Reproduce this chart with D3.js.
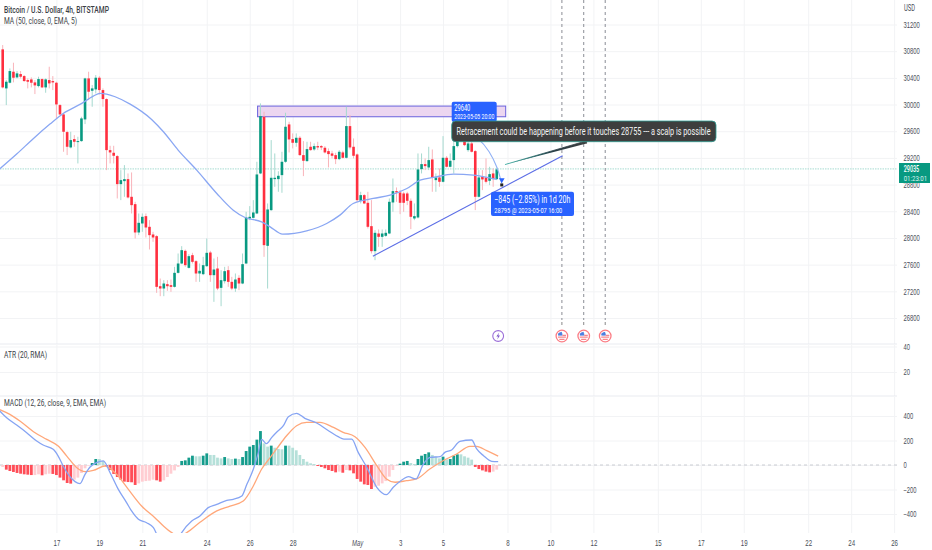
<!DOCTYPE html>
<html>
<head>
<meta charset="utf-8">
<script src="https://cdn.jsdelivr.net/npm/d3@7"></script>
<style>
  html, body { margin: 0; padding: 0; background: #fff; }
  svg { display: block; font-family: Roboto, "Noto Sans", sans-serif; }
  .axis text { fill: #4a4e58; font-size: 8.5px; }
  .axis .domain { display: none; }
  .grid line { stroke: #f2f3f5; }
  .grid .domain, .grid text { display: none; }
</style>
</head>
<body>
<div id="chart"></div>
<script>
// open, high, low, close per 4h bar
var candles = [
[30827,30892,30242,30257],[30242,30367,29992,30342],[30327,30542,30317,30502],[30492,30627,30332,30402],
[30407,30502,30392,30467],[30457,30502,30392,30417],[30427,30442,30342,30352],[30367,30392,30242,30342],
[30377,30407,30257,30327],[30332,30367,30157,30287],[30277,30417,30257,30382],[30382,30392,30247,30257],
[30257,30392,30177,30377],[30367,30567,30242,30317],[30352,30427,30217,30332],[30327,30342,29792,30002],
[29992,30007,29842,29852],[29852,29867,29292,29592],[29587,29607,29242,29367],[29357,29592,29342,29467],
[29482,29542,29367,29442],[29442,29517,29117,29452],[29452,29817,29442,29792],[29777,30402,29707,30392],
[30392,30492,30067,30192],[30207,30292,29967,30242],[30227,30442,30167,30402],[30402,30427,30152,30217],
[30217,30242,29967,30082],[30082,30092,29017,29317],[29317,29382,29117,29282],[29277,29382,29117,29232],
[29227,29242,28592,28807],[28807,29017,28567,28867],[28852,29092,28617,28882],[28882,28967,28592,28607],
[28617,28982,28367,28492],[28507,28542,27992,28082],[28082,28367,28042,28227],[28217,28367,28092,28317],
[28327,28367,28007,28157],[28167,28267,27827,28042],[28052,28092,27942,28007],[28027,28042,27177,27267],
[27277,27392,27127,27242],[27242,27367,27127,27317],[27307,27367,27207,27277],[27292,27377,27192,27267],
[27267,27567,27257,27477],[27477,27767,27467,27617],[27617,27877,27607,27817],[27807,27827,27567,27592],
[27552,27757,27542,27727],[27742,27777,27617,27642],[27652,27667,27342,27467],[27467,27617,27342,27507],
[27457,27717,27442,27592],[27577,27992,27567,27777],[27782,27807,27342,27442],[27442,27692,27042,27527],
[27542,27717,27217,27242],[27252,27517,26977,27367],[27352,27567,27317,27502],[27517,27577,27267,27342],
[27342,27417,27217,27242],[27242,27467,27192,27377],[27402,27442,27217,27317],[27317,27767,27307,27607],
[27617,28392,27607,28307],[28292,28477,28267,28317],[28302,28567,28292,28382],[28367,29142,28357,28952],
[28967,30017,28957,29827],[29817,29892,27717,27892],[27882,28517,27242,28427],[28417,29467,28407,28902],
[28882,29267,28767,28902],[28882,29000,28692,28932],[28942,29292,28677,29142],[29142,29877,29127,29667],
[29702,29742,29282,29477],[29482,29567,29342,29427],[29427,29567,29367,29502],[29502,29527,29232,29242],
[29242,29452,28927,29157],[29152,29442,29142,29332],[29367,29442,29307,29317],[29327,29417,29307,29377],
[29377,29442,29317,29357],[29377,29392,29317,29357],[29352,29377,29267,29282],[29302,29342,29057,29257],
[29267,29307,29192,29232],[29242,29277,29107,29182],[29182,29317,29167,29292],[29282,29307,29192,29202],
[29202,29967,29192,29677],[29677,29842,29327,29357],[29367,29492,29192,29232],[29252,29267,28542,28567],
[28557,28692,28517,28642],[28642,28657,28507,28517],[28527,28692,28142,28167],[28177,28567,27767,27802],
[27802,28117,27667,28077],[28067,28127,27867,28017],[28017,28127,27867,28067],[28032,28127,28017,28077],
[28067,28592,28057,28542],[28532,28892,28392,28702],[28702,28757,28542,28682],[28682,28717,28357,28527],
[28667,28692,28392,28527],[28667,28692,28492,28557],[28557,28592,28132,28317],[28292,28517,28267,28327],
[28307,29267,28292,29027],[29032,29267,28967,29107],[29107,29192,29017,29077],[29057,29367,29017,29167],
[29177,29327,28692,28907],[28867,28967,28692,28907],[28907,29042,28767,28842],[28842,29527,28832,29202],
[29202,29227,29057,29067],[29067,29267,29057,29157],[29167,29467,28967,29377],[29377,29717,29357,29692],
[29592,29692,29467,29532],[29542,29767,29377,29392],[29317,29442,29292,29417],[29417,29442,29282,29292],
[29302,29317,28417,28617],[28617,29017,28607,28907],[28917,29017,28717,28877],[28907,29192,28817,28842],
[28857,29067,28792,28957],[28967,29042,28767,28882],[28882,29057,28867,29027]
];

var maBars = [-1,3.9,8.6,13.2,16.9,22.1,25.3,27.2,29,31.4,35.6,41.6,44.9,49,54.2,59.8,64.4,67.7,72.3,74.7,78.2,84.9,90.5,94.2,97.9,103.5,108.2,112.9,116.6,120.3,125.9,131.5,138];
var maValues = [29027,29257,29492,29707,29867,30017,30127,30167,30157,30117,30007,29777,29592,29317,29017,28667,28417,28307,28242,28167,28057,28107,28217,28342,28517,28592,28642,28742,28867,28907,28957,28942,28877];

var histogram = [-16,-38,-49,-57,-65,-71,-76,-79,-82,-82,-76,-84,-76,-71,-73,-82,-103,-125,-147,-152,-120,-103,-65,-27,-5,16,49,49,33,-8,-41,-73,-98,-120,-136,-139,-141,-163,-150,-136,-131,-128,-120,-125,-136,-125,-98,-71,-44,-16,33,38,60,76,71,71,76,95,82,82,60,54,65,54,49,52,49,65,114,150,163,207,277,177,150,158,141,131,128,158,158,141,120,82,49,27,14,8,-8,-16,-27,-41,-49,-60,-54,-63,-41,-44,-68,-114,-136,-158,-163,-196,-177,-169,-150,-131,-95,-41,-5,11,27,33,16,8,49,76,90,103,82,68,54,68,46,49,76,87,87,71,60,44,-16,-33,-44,-54,-60,-54,-38];

var macdBars = [-1,1.1,3.9,6.7,9.5,11.3,14.1,15.5,16.9,18.3,20.2,21.6,23,24.4,26.2,28.1,30,32.3,34.6,36,37.9,40.2,42.1,43.5,45.5,47.7,50,52.8,55.1,57.4,59.8,62.6,64.4,66.8,68.2,70,71.4,72.3,73.7,75.1,76.5,78.4,79.8,82.1,84.4,87.7,91,93.7,95.3,97.5,99.3,101.7,104.5,107.2,109.1,111.9,113.3,115.4,117.5,119.4,122.2,123.5,125.4,127.7,131,132.4,134.3,136.6,138.4];
var macdValues = [446,386,326,264,196,163,128,73,-8,-76,-136,-152,-76,-16,19,33,-63,-199,-307,-375,-443,-471,-511,-593,-660,-680,-552,-457,-416,-348,-321,-288,-280,-253,-158,-35,101,209,174,223,267,321,394,422,381,343,280,231,212,212,103,-19,-182,-242,-182,-114,-95,-114,8,63,68,103,122,193,204,131,76,30,27];
var signalBars = [-1,2,4.8,8.6,12.3,15.5,17.9,20.7,23,25.3,28.6,31.8,35.1,38.8,42.5,44.9,47.2,49.3,51.4,55.1,59.8,63.5,67.2,70,72.3,74.7,76.5,79.3,82.1,84.9,88.6,92.4,95.1,98.4,101.2,104.5,107.2,109.6,112.8,115.6,119.3,123,126.8,130.5,132.4,135.2,138.4];
var signalValues = [454,413,359,272,209,155,73,-22,-54,-44,-8,-76,-199,-335,-430,-498,-552,-580,-552,-468,-375,-335,-294,-171,-35,60,131,239,321,348,348,307,267,231,144,-5,-114,-141,-128,-114,-33,35,90,152,152,117,73];

var priceTicks = [31200,30800,30400,30000,29600,29200,28800,28400,28000,27600,27200,26800];
var atrTicks = [40,20];
var macdTicks = [400,200,0,-200,-400];
var dayBars = [15,27,39,57,69,81,99,111,123,141,153,165,183,195,207,225,237,249];
var dayLabels = ["17","19","21","24","26","28","May","3","5","8","10","12","15","17","19","22","24","26"];
var eventBars = [156.2,162.3,168.3];
var newsBar = 138.4;
var lastPrice = 29035;
var trendBars = [103.4,156.4];
var trendPrices = [27727,29232];
var boxBars = [71.2,140.5];
var boxPrices = [29977,29817];
var forecastBars = [128.5,133,136,138.2,139.4];
var forecastPrices = [29640,29500,29300,29060,28820];
var calloutBars = [140.3,163.1];
var calloutPrices = [29100,29436];

var width = 932, height = 550, axisX = 897;
var x = d3.scaleLinear().domain([0,139]).range([2.7,2.7+3.58*139]);
var y = d3.scaleLinear().domain([31200,26800]).range([24.5,318]);
var yAtr = d3.scaleLinear().domain([40,20]).range([346.5,372]);
var yMacd = d3.scaleLinear().domain([400,-400]).range([416,514]);

var up = "#089981", down = "#ff2f3f";
var svg = d3.select("#chart").append("svg").attr("width",width).attr("height",height);
var defs = svg.append("defs");

function clip(id, top, bottom) {
  defs.append("clipPath").attr("id",id).append("rect")
    .attr("x",0).attr("y",top).attr("width",axisX).attr("height",bottom-top);
}
clip("clipMain",0,344);
clip("clipMacd",397,533);

// the reference face is narrow, so squeeze text to the measured width
function squeeze(sel, w) {
  return sel.attr("textLength",w).attr("lengthAdjust","spacingAndGlyphs");
}

// vertical grid in each pane
var panes = [[0,344],[345,396],[397,533]];
panes.forEach(function(p) {
  svg.append("g").attr("class","grid").attr("transform","translate(0,"+p[1]+")")
    .call(d3.axisBottom(x).tickValues(dayBars).tickSize(p[0]-p[1]).tickFormat(""));
});

function rightAxis(scale, ticks) {
  svg.append("g").attr("class","grid")
    .call(d3.axisLeft(scale).tickValues(ticks).tickSize(-axisX).tickFormat(""));
  var g = svg.append("g").attr("class","axis").attr("transform","translate("+axisX+",0)")
    .call(d3.axisRight(scale).tickValues(ticks).tickSize(0).tickPadding(6.5).tickFormat(function(d) {
      return d < 0 ? "\u2212" + (-d) : d;
    }));
  g.selectAll("text").each(function() {
    d3.select(this).attr("textLength",this.textContent.length*3.25).attr("lengthAdjust","spacingAndGlyphs");
  });
}
rightAxis(y,priceTicks);
rightAxis(yAtr,atrTicks);
rightAxis(yMacd,macdTicks);

// pane separators
svg.selectAll(".sep").data([344,396]).enter().append("line")
  .attr("x1",0).attr("x2",axisX).attr("y1",function(d){return d;}).attr("y2",function(d){return d;})
  .attr("stroke","#e9ebf0");

squeeze(svg.append("text").attr("x",904).attr("y",11)
  .attr("font-size",8.5).attr("fill","#4a4e58").text("USD"),11);

// time axis
var timeAxis = svg.append("g").attr("class","axis").attr("transform","translate(0,533)")
  .call(d3.axisBottom(x).tickValues(dayBars).tickSize(0).tickPadding(7)
    .tickFormat(function(d,i){ return dayLabels[i]; }));
timeAxis.selectAll("text")
  .attr("font-style",function(d,i){ return dayLabels[i]=="May" ? "italic" : null; })
  .attr("textLength",function(d,i){ return dayLabels[i].length*(dayLabels[i]=="May" ? 3.7 : 3.4); })
  .attr("lengthAdjust","spacingAndGlyphs");

var main = svg.append("g").attr("clip-path","url(#clipMain)");

// last price line
main.append("line").attr("x1",0).attr("x2",axisX).attr("y1",y(lastPrice)).attr("y2",y(lastPrice))
  .attr("stroke","#a7dcd2").attr("stroke-dasharray","1.5 1");

// event dashed lines
main.selectAll(".ev").data(eventBars).enter().append("line")
  .attr("x1",function(d){return x(d);}).attr("x2",function(d){return x(d);})
  .attr("y1",0).attr("y2",320)
  .attr("stroke","#8a8d95").attr("stroke-dasharray","3 3");

// resistance box
main.append("rect")
  .attr("x",x(boxBars[0])).attr("y",y(boxPrices[0]))
  .attr("width",x(boxBars[1])-x(boxBars[0])).attr("height",y(boxPrices[1])-y(boxPrices[0]))
  .attr("fill","#ecd6f0").attr("stroke","#6a62dd").attr("stroke-width",1);

// wicks then bodies
main.selectAll(".wick").data(candles).enter().append("line")
  .attr("x1",function(d,i){return x(i);}).attr("x2",function(d,i){return x(i);})
  .attr("y1",function(d){return y(d[1]);}).attr("y2",function(d){return y(d[2]);})
  .attr("stroke",function(d){return d[3]>=d[0] ? "#a6d9cf" : "#f9b4ba";});
main.selectAll(".body").data(candles).enter().append("rect")
  .attr("x",function(d,i){return x(i)-1.3;}).attr("width",2.6)
  .attr("y",function(d){return y(Math.max(d[0],d[3]));})
  .attr("height",function(d){return Math.max(1,Math.abs(y(d[0])-y(d[3])));})
  .attr("fill",function(d){return d[3]>=d[0] ? up : down;});

// moving average and drawn lines
main.append("path").attr("fill","none").attr("stroke","#8aa7f3").attr("stroke-width",1.3)
  .attr("d",d3.line().x(function(d,i){return x(maBars[i]);}).y(function(d){return y(d);}).curve(d3.curveMonotoneX)(maValues));
main.append("line")
  .attr("x1",x(trendBars[0])).attr("y1",y(trendPrices[0])).attr("x2",x(trendBars[1])).attr("y2",y(trendPrices[1]))
  .attr("stroke","#5c6ee6").attr("stroke-width",1.2);

// forecast curve with target marker
main.append("path").attr("fill","none").attr("stroke","#8fb0f5").attr("stroke-width",1.1)
  .attr("d",d3.line().x(function(d,i){return x(forecastBars[i]);}).y(function(d){return y(d);}).curve(d3.curveBasis)(forecastPrices));
main.append("path").attr("fill","#2962ff")
  .attr("d",d3.symbol().type(d3.symbolTriangle).size(14)())
  .attr("transform","translate("+x(139.4)+","+y(28870)+") rotate(180)");
main.append("rect").attr("x",x(139.4)-1.5).attr("y",y(28795)-1.5).attr("width",3).attr("height",3).attr("fill","#222");

// callout tail
var tail = defs.append("linearGradient").attr("id","tailGrad")
  .attr("gradientUnits","userSpaceOnUse")
  .attr("x1",x(calloutBars[0])).attr("x2",x(calloutBars[1])).attr("y1",0).attr("y2",0);
tail.append("stop").attr("offset",0).attr("stop-color","#2aa79b");
tail.append("stop").attr("offset",0.6).attr("stop-color","#263b44");
tail.append("stop").attr("offset",1).attr("stop-color","#3f3f3f");
main.append("path").attr("fill","url(#tailGrad)").attr("stroke","url(#tailGrad)").attr("stroke-width",0.8)
  .attr("d",d3.line()([
    [x(calloutBars[0]),y(calloutPrices[0])],
    [x(calloutBars[1]),y(calloutPrices[1])-1.4],
    [x(calloutBars[1]),y(calloutPrices[1])+1.4]
  ]));

// price label of the forecast idea
main.append("rect").attr("x",451.7).attr("y",101.7).attr("width",45).attr("height",20.3).attr("rx",2).attr("fill","#2962ff");
squeeze(main.append("text").attr("x",454.3).attr("y",110.5).attr("fill","#fff").attr("font-size",9).text("29640"),16);
squeeze(main.append("text").attr("x",454.3).attr("y",119).attr("fill","#fff").attr("font-size",6.6).text("2023-05-05 20:00"),40);

// callout box
main.append("rect").attr("x",451.7).attr("y",121).attr("width",264.3).attr("height",20.7).attr("rx",4)
  .attr("fill","#3e3e3e").attr("stroke","#2f9e94").attr("stroke-width",0.8);
squeeze(main.append("text").attr("x",456.5).attr("y",134.8).attr("fill","#f4f4f4").attr("font-size",10.5)
  .text("Retracement could be happening before it touches 28755 --- a scalp is possible"),254);

// drop label
main.append("rect").attr("x",491).attr("y",191.7).attr("width",83).attr("height",24.3).attr("rx",2).attr("fill","#2962ff");
squeeze(main.append("text").attr("x",494.3).attr("y",203).attr("fill","#fff").attr("font-size",10.3)
  .text("\u2212845 (\u22122.85%) in 1d 20h"),76);
squeeze(main.append("text").attr("x",494.3).attr("y",212.5).attr("fill","#fff").attr("font-size",7)
  .text("28795 @ 2023-05-07  16:00"),68);

// event icons
var icons = main.selectAll(".icon").data(eventBars).enter().append("g")
  .attr("transform",function(d){return "translate("+x(d)+",336)";});
icons.append("line").attr("y1",-14).attr("y2",-11).attr("stroke","#888");
icons.append("circle").attr("r",5.8).attr("fill","#fff").attr("stroke","#fb7d85").attr("stroke-width",1.3);
icons.append("path").attr("d","M-4 -1.5A4.3 4.3 0 0 1 0 -4.2V-1.5Z").attr("fill","#4c7fe0");
icons.append("rect").attr("x",-3.8).attr("y",-2.6).attr("width",4.3).attr("height",2.2).attr("fill","#4c7fe0");
icons.append("rect").attr("x",0.5).attr("y",-1.2).attr("width",3.6).attr("height",1).attr("fill","#f26a72");
icons.append("rect").attr("x",-4).attr("y",0.6).attr("width",8).attr("height",1).attr("fill","#f26a72");
icons.append("rect").attr("x",-2.6).attr("y",2.8).attr("width",5.2).attr("height",1).attr("fill","#f26a72");

var news = main.append("g").attr("transform","translate("+x(newsBar)+",336)");
news.append("circle").attr("r",5.4).attr("fill","#fff").attr("stroke","#9b6ed8").attr("stroke-width",1.1);
news.append("path").attr("d","M1 -3.4L-1.8 0.5H0L-1 3.4L1.8 -0.5H0Z").attr("fill","#7a52c8");

// macd pane
var macdPane = svg.append("g").attr("clip-path","url(#clipMacd)");
macdPane.append("line").attr("x1",0).attr("x2",axisX).attr("y1",yMacd(0)).attr("y2",yMacd(0))
  .attr("stroke","#c9ccd2").attr("stroke-dasharray","3 3");
macdPane.selectAll(".hist").data(histogram).enter().append("rect")
  .attr("x",function(d,i){return x(i)-1.4;}).attr("width",2.8)
  .attr("y",function(d){return Math.min(yMacd(d),yMacd(0));})
  .attr("height",function(d){return Math.abs(yMacd(d)-yMacd(0));})
  .attr("fill",function(d,i) {
    var prev = i ? histogram[i-1] : d;
    if (d >= 0) return d > prev ? "#159c8c" : "#b5e0d9";
    return d < prev ? "#ff4d57" : "#ffcdd2";
  });
macdPane.append("path").attr("fill","none").attr("stroke","#ffa77a").attr("stroke-width",1.3)
  .attr("d",d3.line().x(function(d,i){return x(signalBars[i]);}).y(function(d){return yMacd(d);}).curve(d3.curveMonotoneX)(signalValues));
macdPane.append("path").attr("fill","none").attr("stroke","#86a4f3").attr("stroke-width",1.3)
  .attr("d",d3.line().x(function(d,i){return x(macdBars[i]);}).y(function(d){return yMacd(d);}).curve(d3.curveMonotoneX)(macdValues));

// legends
squeeze(svg.append("text").attr("x",4).attr("y",13).attr("font-size",8.8).attr("font-weight",500).attr("fill","#3c3f47")
  .text("Bitcoin / U.S. Dollar, 4h, BITSTAMP"),105);
squeeze(svg.append("text").attr("x",4).attr("y",24).attr("font-size",8.8).attr("fill","#3c3f47").text("MA (50, close, 0, EMA, 5)"),73);
squeeze(svg.append("text").attr("x",4).attr("y",358).attr("font-size",8.8).attr("fill","#3c3f47").text("ATR (20, RMA)"),43);
squeeze(svg.append("text").attr("x",4).attr("y",406).attr("font-size",8.8).attr("fill","#3c3f47").text("MACD (12, 26, close, 9, EMA, EMA)"),102);

// last price tag
svg.append("rect").attr("x",899).attr("y",163).attr("width",31).attr("height",20).attr("fill",up);
squeeze(svg.append("text").attr("x",903.7).attr("y",172).attr("font-size",8.5).attr("font-weight",500).attr("fill","#fff").text(lastPrice),15.5);
squeeze(svg.append("text").attr("x",903.7).attr("y",180.5).attr("font-size",8).attr("fill","#dff3ef").text("01:23:01"),23.5);
</script>
</body>
</html>
